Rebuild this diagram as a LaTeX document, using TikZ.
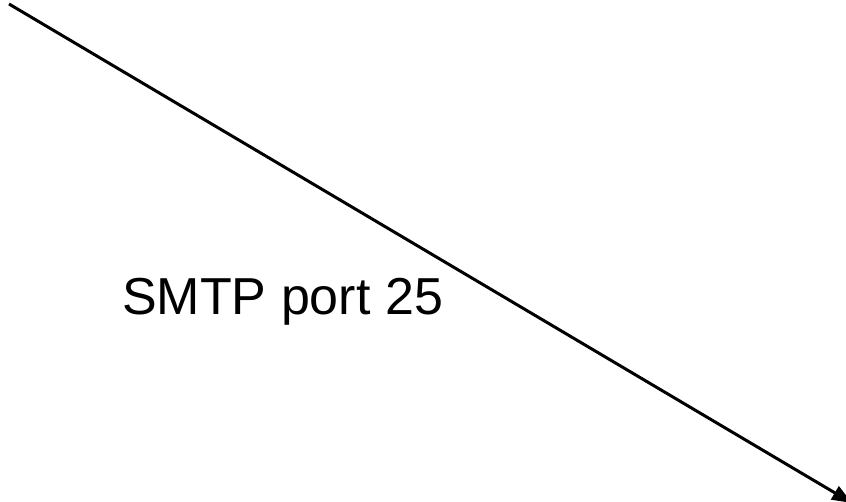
\documentclass[tikz,border=0pt]{standalone}
\usepackage{fontspec}
\setmainfont{Liberation Sans}
\usetikzlibrary{calc,arrows.meta}

\begin{document}
\begin{tikzpicture}[x=1pt,y=1pt]
			\useasboundingbox (0,0) rectangle (846,-502);
			\coordinate (from) at (9,-4);
			\coordinate (to) at (852,-503);
			\draw[line width=3pt, -{Triangle[length=20pt,width=15pt]}] (from) -- (to);
			\node[anchor=base west, inner sep=0pt] (smtp) at (122,-315) {\fontsize{52}{60}\selectfont SMTP port 25};
			\end{tikzpicture}
\end{document}
